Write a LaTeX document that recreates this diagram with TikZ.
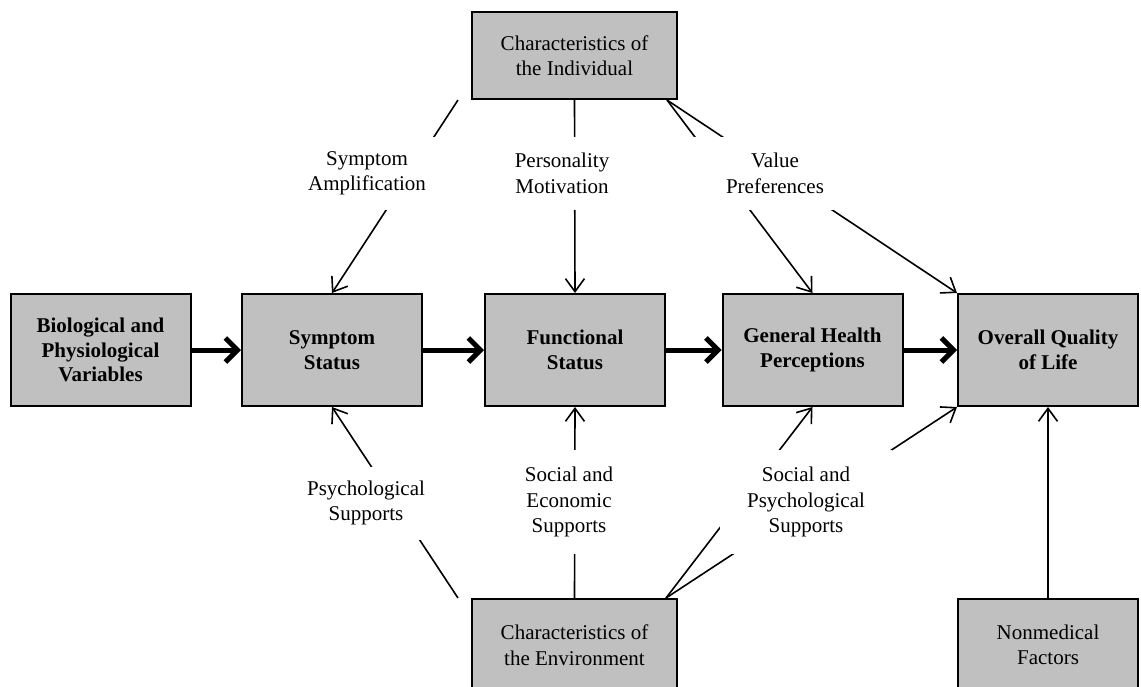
\documentclass[tikz,border=0pt]{standalone}
\usepackage{fontspec}
\setmainfont{Liberation Serif}
\usetikzlibrary{arrows.meta}
\definecolor{boxgray}{RGB}{192,192,192}
\tikzset{
  stage/.style={draw=black, line width=2pt, fill=boxgray, minimum width=180pt,
    minimum height=112pt, align=center, inner sep=2pt,
    font=\bfseries\fontsize{21}{24.5}\selectfont},
  source/.style={draw=black, line width=2pt, fill=boxgray, minimum width=205pt,
    minimum height=87pt, align=center, inner sep=2pt,
    font=\fontsize{21}{25.5}\selectfont},
  mainflow/.style={line width=5pt, -{Straight Barb[length=12pt,width=24pt]}},
  influence/.style={line width=1.6pt, -{Straight Barb[length=13pt,width=19pt]}},
  tag/.style={fill=white, inner sep=0pt, minimum width=160pt, minimum height=73pt,
    align=center, font=\fontsize{21}{25.5}\selectfont},
}
\begin{document}
\begin{tikzpicture}[x=1pt, y=-1pt]
\useasboundingbox (0,0) rectangle (1141,686);

% sources of influence
\node[source] (ind) at (574.5,55.5) {Characteristics of\\the Individual};
\node[source, minimum height=92pt] (env) at (574.5,645) {Characteristics of\\the Environment};
\node[source, minimum width=180pt, minimum height=92pt] (nm) at (1048,645) {Nonmedical\\Factors};

% main chain of health outcomes
\node[stage] (bio) at (100.5,350) {Biological and\\Physiological\\Variables};
\node[stage] (sym) at (332,350) {Symptom\\Status};
\node[stage] (fun) at (575,350) {Functional\\Status};
\node[stage] (ghp) at (812.5,350) {General Health\\Perceptions};
\node[stage] (oql) at (1048,350) {Overall Quality\\of Life};

\draw[mainflow] (bio.east) -- (sym.west);
\draw[mainflow] (sym.east) -- (fun.west);
\draw[mainflow] (fun.east) -- (ghp.west);
\draw[mainflow] (ghp.east) -- (oql.west);

% influences from the individual
\coordinate (ampl) at (458,100);
\coordinate (pref) at (667,100);
\draw[influence] (ampl) -- (sym.north);
\draw[influence] (ind.south) -- (fun.north);
\draw[influence] (pref) -- (ghp.north);
\draw[influence] (pref) -- (oql.north west);

% influences from the environment
\coordinate (psup) at (458,598);
\coordinate (spsup) at (666,598);
\draw[influence] (psup) -- (sym.south);
\draw[influence] (env.north) -- (fun.south);
\draw[influence] (spsup) -- (ghp.south);
\draw[influence] (spsup) -- (oql.south west);
\draw[influence] (nm.north) -- (oql.south);

% labels laid over the connectors
\node[tag] (lamp) at (367,173.5) {Symptom\\Amplification};
\node[tag] (lper) at (562,173.5) {Personality\\Motivation};
\node[tag, minimum width=170pt] (lval) at (775,173.5) {Value\\Preferences};
\node[tag] (lpsy) at (366,503) {Psychological\\Supports};
\node[tag, minimum height=104pt] (lsec) at (569,502) {Social and\\Economic\\Supports};
\node[tag, minimum width=172pt, minimum height=104pt] (lsps) at (806,502) {Social and\\Psychological\\Supports};
\end{tikzpicture}
\end{document}
